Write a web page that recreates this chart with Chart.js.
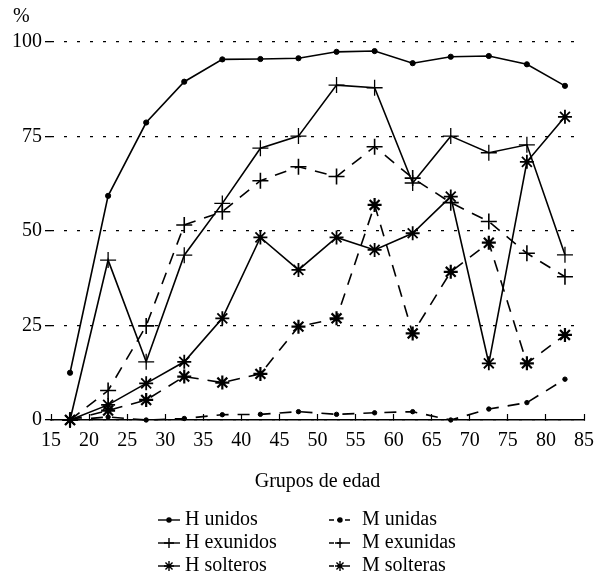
<!DOCTYPE html>
<html>
<head>
<meta charset="utf-8">
<script src="https://cdn.jsdelivr.net/npm/chart.js@4.4.1/dist/chart.umd.min.js"></script>
<style>
  html, body { margin: 0; padding: 0; background: #fff; }
  #wrap { width: 597px; height: 582px; position: relative; }
</style>
</head>
<body>
<div id="wrap"><canvas id="edadChart"></canvas></div>
<script>
// age group midpoints (15-20, 20-25, ... 80-85)
const ageGroups = [17.5, 22.5, 27.5, 32.5, 37.5, 42.5, 47.5, 52.5, 57.5, 62.5, 67.5, 72.5, 77.5, 82.5];
const xTicks = [15, 20, 25, 30, 35, 40, 45, 50, 55, 60, 65, 70, 75, 80, 85];
const yTicks = [0, 25, 50, 75, 100];

const hUnidos   = [12.5, 59.3, 78.7, 89.5, 95.4, 95.5, 95.7, 97.4, 97.6, 94.4, 96.1, 96.3, 94.1, 88.4];
const mUnidas   = [0, 0.8, 0, 0.4, 1.4, 1.5, 2.2, 1.5, 1.9, 2.2, 0, 2.9, 4.6, 10.8];
const hExunidos = [0, 42.3, 15.4, 43.6, 57.3, 71.9, 75.1, 88.6, 87.9, 62.7, 75.1, 70.7, 72.8, 43.7];
const mExunidas = [0, 7.8, 24.9, 51.6, 55.1, 63.3, 67.0, 64.4, 72.3, 64.0, 57.5, 52.5, 44.1, 37.9];
const hSolteros = [0, 4.0, 9.7, 15.4, 26.9, 48.3, 39.7, 48.3, 45.0, 49.4, 59.1, 15.0, 68.3, 80.2];
const mSolteras = [0, 2.5, 5.3, 11.5, 9.9, 12.2, 24.7, 26.9, 56.9, 22.9, 39.2, 46.9, 15.0, 22.5];

const serif = "'Liberation Serif', 'DejaVu Serif', serif";

const toPoints = vals => vals.map((v, i) => ({ x: ageGroups[i], y: v }));

function serie(label, vals, dashed, pointStyle, radius, pointWidth) {
    return {
        label: label,
        data: toPoints(vals),
        borderColor: '#000',
        backgroundColor: '#000',
        borderWidth: 1.6,
        borderDash: dashed ? [12, 9] : [],
        pointStyle: pointStyle,
        pointRadius: radius,
        pointBorderWidth: pointWidth,
        pointBackgroundColor: '#000',
        pointBorderColor: '#000',
        tension: 0,
        fill: false,
        clip: false
    };
}

// two-column legend, % sign
const leyenda = {
    id: 'leyenda',
    afterDraw(chart) {
        const ctx = chart.ctx;
        ctx.save();
        ctx.fillStyle = '#000';
        ctx.strokeStyle = '#000';
        ctx.font = '20px ' + serif;
        ctx.textBaseline = 'middle';
        ctx.textAlign = 'left';
        ctx.fillText('%', 13, 17);

        const cols = [{ icon: 169, text: 185 }, { icon: 340, text: 362 }];
        const rows = [520, 543, 566];
        chart.data.datasets.forEach((ds, i) => {
            const c = cols[i % 2];
            const y = rows[Math.floor(i / 2)];
            ctx.lineWidth = 1.4;
            ctx.setLineDash(ds.borderDash.length ? [5, 3] : []);
            ctx.beginPath();
            ctx.moveTo(c.icon - 11, y);
            ctx.lineTo(c.icon + 11, y);
            ctx.stroke();
            ctx.setLineDash([]);
            Chart.helpers.drawPoint(ctx, {
                pointStyle: ds.pointStyle,
                radius: ds.pointRadius > 4 ? 5 : 2,
                borderWidth: 1.2,
                rotation: 0
            }, c.icon, y);
            ctx.fillText(ds.label, c.text, y);
        });
        ctx.restore();
    }
};

new Chart(document.getElementById('edadChart'), {
    type: 'line',
    data: {
        datasets: [
            serie('H unidos', hUnidos, false, 'circle', 2.6, 1),
            serie('M unidas', mUnidas, true, 'circle', 2.2, 1),
            serie('H exunidos', hExunidos, false, 'cross', 8, 1.3),
            serie('M exunidas', mExunidas, true, 'cross', 8, 1.6),
            serie('H solteros', hSolteros, false, 'star', 7, 1.8),
            serie('M solteras', mSolteras, true, 'star', 7, 2.2)
        ]
    },
    options: {
        responsive: true,
        maintainAspectRatio: false,
        animation: false,
        layout: {
            padding: { left: 9, right: 0, top: 42, bottom: 88 }
        },
        plugins: {
            legend: { display: false },
            tooltip: { enabled: false }
        },
        scales: {
            x: {
                type: 'linear',
                min: 15,
                max: 85,
                afterBuildTicks: axis => { axis.ticks = xTicks.map(v => ({ value: v })); },
                ticks: {
                    color: '#000',
                    padding: 3,
                    maxRotation: 0,
                    autoSkip: false,
                    font: { family: serif, size: 20, lineHeight: 2.4 }
                },
                grid: {
                    drawOnChartArea: false,
                    drawTicks: true,
                    tickLength: -6,
                    tickColor: '#000',
                    tickWidth: 1.2
                },
                border: { display: true, color: '#000', width: 1.6 },
                title: {
                    display: true,
                    text: 'Grupos de edad',
                    color: '#000',
                    font: { family: serif, size: 20 },
                    padding: { top: 2, bottom: 0 }
                }
            },
            y: {
                min: 0,
                max: 100,
                afterBuildTicks: axis => { axis.ticks = yTicks.map(v => ({ value: v })); },
                ticks: {
                    color: '#000',
                    padding: 3,
                    font: { family: serif, size: 20 }
                },
                grid: {
                    color: '#000',
                    lineWidth: 1.3,
                    drawTicks: true,
                    tickLength: 6,
                    tickColor: '#000',
                    tickWidth: 1.3,
                    tickBorderDash: []
                },
                border: { display: false, dash: [3, 10] }
            }
        }
    },
    plugins: [leyenda]
});
</script>
</body>
</html>
